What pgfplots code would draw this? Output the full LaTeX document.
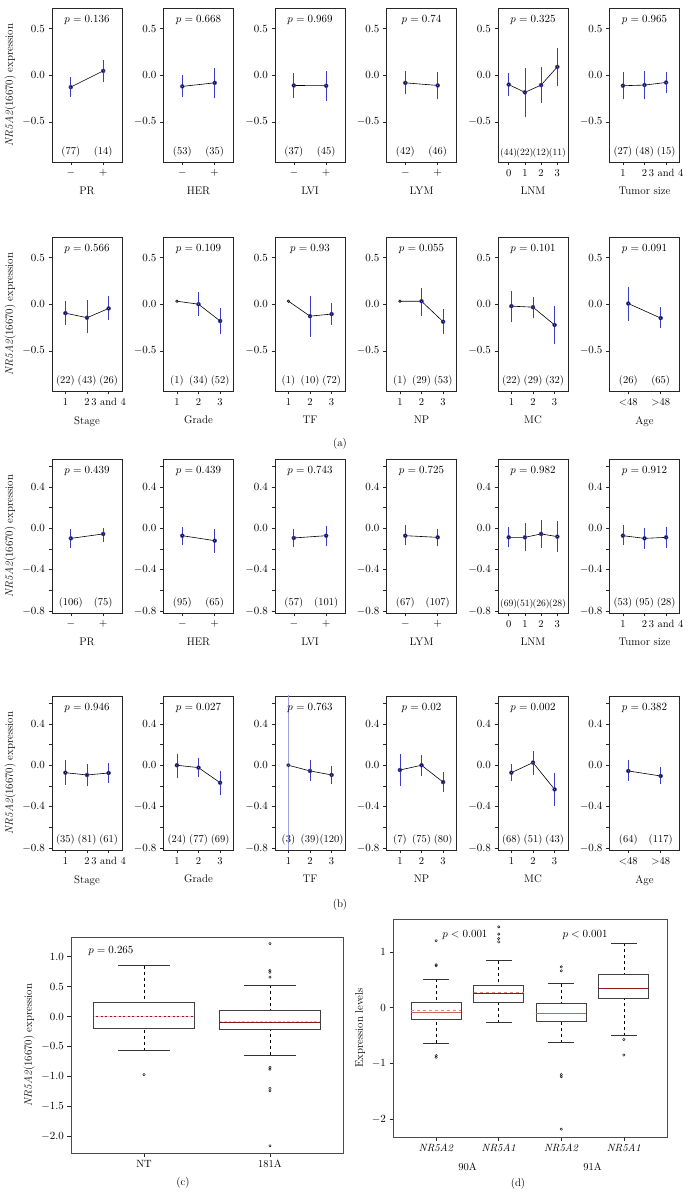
\documentclass[border=0pt]{standalone}
\usepackage{pgfplots}
\pgfplotsset{compat=1.18}
\usepgfplotslibrary{statistics}
\definecolor{barblue}{RGB}{60,60,200}
\definecolor{medred}{RGB}{140,25,25}
\definecolor{meanpink}{RGB}{232,135,135}
\definecolor{meanlight}{RGB}{245,185,185}
\definecolor{medrose}{RGB}{205,95,95}
\newcommand{\tfont}{\fontsize{10.5}{12.5}\selectfont}
\newcommand{\pfont}{\fontsize{11}{13}\selectfont}
\newcommand{\nfont}{\fontsize{10.5}{12}\selectfont}
\newcommand{\sfont}{\fontsize{9.6}{11}\selectfont}
\newcommand{\lfont}{\fontsize{11}{13}\selectfont}
\newcommand{\ebars}[1]{\addplot[barblue, only marks, mark=none, error bars/.cd, y dir=both, y explicit, error bar style={line width=0.7pt, barblue}, error mark options={barblue, mark size=1.4pt, line width=0.7pt}] coordinates {#1};}
\newcommand{\mline}[1]{\addplot[black, line width=0.6pt, mark=*, mark size=1.3pt, mark options={fill=black!45, draw=black, line width=0.5pt}] coordinates {#1};}
\newcommand{\plab}[1]{\node[font=\pfont, anchor=north, yshift=-3.5pt] at (rel axis cs:0.5,1) {$p = #1$};}
\newcommand{\nlab}[2]{\node[font=\nfont, anchor=south, yshift=1pt] at ({axis cs:#1,0} |- {rel axis cs:0,0}) {(#2)};}
\newcommand{\nlabs}[2]{\node[font=\sfont, anchor=south, yshift=1pt, inner xsep=0pt] at ({axis cs:#1,0} |- {rel axis cs:0,0}) {(#2)};}
\pgfplotsset{
  pan/.style={scale only axis, width=70pt, height=154pt, anchor=south west,
    axis line style={black!85, line width=0.6pt},
    tick align=outside, tick pos=left,
    major tick length=3.5pt, every tick/.style={black!85, line width=0.5pt},
    tick label style={font=\tfont},
    xlabel style={font=\lfont, yshift=-4pt},
    ylabel style={font=\lfont},
    clip=true},
  rowa/.style={ymin=-0.93, ymax=0.72, ytick={-0.5,0,0.5}, yticklabels={$-0.5$,$0.0$,$0.5$}},
  rowb/.style={ymin=-0.82, ymax=0.67, ytick={-0.8,-0.6,-0.4,-0.2,0,0.2,0.4,0.6}, yticklabels={$-0.8$,,$-0.4$,,$0.0$,,$0.4$,}},
  two/.style={xmin=0.42, xmax=2.58, xtick={1,2}, xticklabels={$-$,$+$}},
  three/.style={xmin=0.38, xmax=3.62, xtick={1,2,3}, xticklabels={1,2,3}},
  four/.style={xmin=0.34, xmax=4.66, xtick={1,2,3,4}, xticklabels={0,1,2,3}},
  yl/.style={ylabel={\textit{NR5A2}(16670) expression}},
  bx/.style={scale only axis, anchor=south west,
    axis line style={black!70, line width=0.7pt},
    tick align=outside, tick pos=left,
    major tick length=3.5pt, every tick/.style={black!85, line width=0.5pt},
    tick label style={font=\tfont},
    ylabel style={font=\lfont},
    clip mode=individual,
    boxplot/draw direction=y},
  boxplot/every box/.style={draw=black!75, line width=0.8pt},
  boxplot/draw/lower whisker/.code={%
    \draw[black, dashed, line width=0.6pt] (boxplot box cs:\pgfplotsboxplotvalue{lower whisker},0.5) -- (boxplot box cs:\pgfplotsboxplotvalue{lower quartile},0.5);
    \draw[black!80, line width=0.7pt] (boxplot whisker cs:\pgfplotsboxplotvalue{lower whisker},0) -- (boxplot whisker cs:\pgfplotsboxplotvalue{lower whisker},1);},
  boxplot/draw/upper whisker/.code={%
    \draw[black, dashed, line width=0.6pt] (boxplot box cs:\pgfplotsboxplotvalue{upper whisker},0.5) -- (boxplot box cs:\pgfplotsboxplotvalue{upper quartile},0.5);
    \draw[black!80, line width=0.7pt] (boxplot whisker cs:\pgfplotsboxplotvalue{upper whisker},0) -- (boxplot whisker cs:\pgfplotsboxplotvalue{upper whisker},1);},
  boxplot/draw/average/.code={%
    \draw[/pgfplots/boxplot/every average/.try] (boxplot box cs:\pgfplotsboxplotvalue{average},0) -- (boxplot box cs:\pgfplotsboxplotvalue{average},1);},
  boxplot/every average/.style={meanpink, dashed, line width=0.9pt},
}
\begin{document}
\begin{tikzpicture}
\useasboundingbox (0,0) rectangle (693pt,1195pt);
% ---------------- row 1 (a)
\begin{axis}[pan, rowa, two, yl, at={(52pt,1033pt)}, xlabel={PR}]
\ebars{(1,-0.128) += (0,0.093) -= (0,0.092) (2,0.046) += (0,0.103) -= (0,0.106)}
\mline{(1,-0.128) (2,0.046)}
\plab{0.136}\nlab{1}{77}\nlab{2}{14}
\end{axis}
\begin{axis}[pan, rowa, two, at={(163.5pt,1033pt)}, xlabel={HER}]
\ebars{(1,-0.12) += (0,0.102) -= (0,0.103) (2,-0.082) += (0,0.146) -= (0,0.152)}
\mline{(1,-0.12) (2,-0.082)}
\plab{0.668}\nlab{1}{53}\nlab{2}{35}
\end{axis}
\begin{axis}[pan, rowa, two, at={(275pt,1033pt)}, xlabel={LVI}]
\ebars{(1,-0.11) += (0,0.114) -= (0,0.117) (2,-0.113) += (0,0.138) -= (0,0.146)}
\mline{(1,-0.11) (2,-0.113)}
\plab{0.969}\nlab{1}{37}\nlab{2}{45}
\end{axis}
\begin{axis}[pan, rowa, two, at={(386.5pt,1033pt)}, xlabel={LYM}]
\ebars{(1,-0.082) += (0,0.114) -= (0,0.108) (2,-0.11) += (0,0.131) -= (0,0.135)}
\mline{(1,-0.082) (2,-0.11)}
\plab{0.74}\nlab{1}{42}\nlab{2}{46}
\end{axis}
\begin{axis}[pan, rowa, four, at={(498pt,1033pt)}, xlabel={LNM}]
\ebars{(1,-0.1) += (0,0.107) -= (0,0.106) (2,-0.184) += (0,0.248) -= (0,0.252) (3,-0.106) += (0,0.176) -= (0,0.174) (4,0.089) += (0,0.188) -= (0,0.192)}
\mline{(1,-0.1) (2,-0.184) (3,-0.106) (4,0.089)}
\plab{0.325}\nlabs{1}{44}\nlabs{2}{22}\nlabs{3}{12}\nlabs{4}{11}
\end{axis}
\begin{axis}[pan, rowa, three, xticklabels={1,2,3 and 4}, at={(609.5pt,1033pt)}, xlabel={Tumor size}]
\ebars{(1,-0.113) += (0,0.131) -= (0,0.132) (2,-0.106) += (0,0.134) -= (0,0.139) (3,-0.078) += (0,0.099) -= (0,0.099)}
\mline{(1,-0.113) (2,-0.106) (3,-0.078)}
\plab{0.965}\nlab{1}{27}\nlab{2}{48}\nlab{3}{15}
\end{axis}
% ---------------- row 2 (a)
\begin{axis}[pan, rowa, three, xticklabels={1,2,3 and 4}, yl, at={(52pt,804pt)}, xlabel={Stage}]
\ebars{(1,-0.096) += (0,0.116) -= (0,0.11) (2,-0.145) += (0,0.175) -= (0,0.153) (3,-0.046) += (0,0.116) -= (0,0.11)}
\mline{(1,-0.096) (2,-0.145) (3,-0.046)}
\plab{0.566}\nlab{1}{22}\nlab{2}{43}\nlab{3}{26}
\end{axis}
\begin{axis}[pan, rowa, three, at={(163.5pt,804pt)}, xlabel={Grade}]
\ebars{(2,0.0) += (0,0.12) -= (0,0.11) (3,-0.18) += (0,0.123) -= (0,0.125)}
\mline{(1,0.032) (2,0.0) (3,-0.18)}
\plab{0.109}\nlab{1}{1}\nlab{2}{34}\nlab{3}{52}
\end{axis}
\begin{axis}[pan, rowa, three, at={(275pt,804pt)}, xlabel={TF}]
\ebars{(2,-0.128) += (0,0.203) -= (0,0.205) (3,-0.106) += (0,0.102) -= (0,0.1)}
\mline{(1,0.032) (2,-0.128) (3,-0.106)}
\plab{0.93}\nlab{1}{1}\nlab{2}{10}\nlab{3}{72}
\end{axis}
\begin{axis}[pan, rowa, three, at={(386.5pt,804pt)}, xlabel={NP}]
\ebars{(2,0.032) += (0,0.131) -= (0,0.142) (3,-0.188) += (0,0.121) -= (0,0.117)}
\mline{(1,0.032) (2,0.032) (3,-0.188)}
\plab{0.055}\nlab{1}{1}\nlab{2}{29}\nlab{3}{53}
\end{axis}
\begin{axis}[pan, rowa, three, at={(498pt,804pt)}, xlabel={MC}]
\ebars{(1,-0.021) += (0,0.149) -= (0,0.159) (2,-0.032) += (0,0.092) -= (0,0.103) (3,-0.223) += (0,0.184) -= (0,0.187)}
\mline{(1,-0.021) (2,-0.032) (3,-0.223)}
\plab{0.101}\nlab{1}{22}\nlab{2}{29}\nlab{3}{32}
\end{axis}
\begin{axis}[pan, rowa, two, xticklabels={<48,>48}, at={(609.5pt,804pt)}, xlabel={Age}]
\ebars{(1,0.007) += (0,0.167) -= (0,0.17) (2,-0.149) += (0,0.099) -= (0,0.096)}
\mline{(1,0.007) (2,-0.149)}
\plab{0.091}\nlab{1}{26}\nlab{2}{65}
\end{axis}
\node[font=\lfont] at (340pt,751pt) {(a)};
% ---------------- row 3 (b)
\begin{axis}[pan, rowb, two, yl, at={(52pt,582pt)}, xlabel={PR}]
\ebars{(1,-0.098) += (0,0.075) -= (0,0.081) (2,-0.055) += (0,0.045) -= (0,0.06)}
\mline{(1,-0.098) (2,-0.055)}
\plab{0.439}\nlab{1}{106}\nlab{2}{75}
\end{axis}
\begin{axis}[pan, rowb, two, at={(163.5pt,582pt)}, xlabel={HER}]
\ebars{(1,-0.072) += (0,0.072) -= (0,0.081) (2,-0.12) += (0,0.097) -= (0,0.104)}
\mline{(1,-0.072) (2,-0.12)}
\plab{0.439}\nlab{1}{95}\nlab{2}{65}
\end{axis}
\begin{axis}[pan, rowb, two, at={(275pt,582pt)}, xlabel={LVI}]
\ebars{(1,-0.094) += (0,0.078) -= (0,0.075) (2,-0.072) += (0,0.082) -= (0,0.088)}
\mline{(1,-0.094) (2,-0.072)}
\plab{0.743}\nlab{1}{57}\nlab{2}{101}
\end{axis}
\begin{axis}[pan, rowb, two, at={(386.5pt,582pt)}, xlabel={LYM}]
\ebars{(1,-0.072) += (0,0.092) -= (0,0.081) (2,-0.088) += (0,0.072) -= (0,0.075)}
\mline{(1,-0.072) (2,-0.088)}
\plab{0.725}\nlab{1}{67}\nlab{2}{107}
\end{axis}
\begin{axis}[pan, rowb, four, at={(498pt,582pt)}, xlabel={LNM}]
\ebars{(1,-0.088) += (0,0.088) -= (0,0.081) (2,-0.088) += (0,0.124) -= (0,0.123) (3,-0.055) += (0,0.123) -= (0,0.121) (4,-0.081) += (0,0.14) -= (0,0.137)}
\mline{(1,-0.088) (2,-0.088) (3,-0.055) (4,-0.081)}
\plab{0.982}\nlabs{1}{69}\nlabs{2}{51}\nlabs{3}{26}\nlabs{4}{28}
\end{axis}
\begin{axis}[pan, rowb, three, xticklabels={1,2,3 and 4}, at={(609.5pt,582pt)}, xlabel={Tumor size}]
\ebars{(1,-0.072) += (0,0.088) -= (0,0.081) (2,-0.098) += (0,0.091) -= (0,0.087) (3,-0.088) += (0,0.091) -= (0,0.088)}
\mline{(1,-0.072) (2,-0.098) (3,-0.088)}
\plab{0.912}\nlab{1}{53}\nlab{2}{95}\nlab{3}{28}
\end{axis}
% ---------------- row 4 (b)
\begin{axis}[pan, rowb, three, xticklabels={1,2,3 and 4}, yl, at={(52pt,345pt)}, xlabel={Stage}]
\ebars{(1,-0.072) += (0,0.114) -= (0,0.104) (2,-0.094) += (0,0.097) -= (0,0.096) (3,-0.075) += (0,0.085) -= (0,0.088)}
\mline{(1,-0.072) (2,-0.094) (3,-0.075)}
\plab{0.946}\nlab{1}{35}\nlab{2}{81}\nlab{3}{61}
\end{axis}
\begin{axis}[pan, rowb, three, at={(163.5pt,345pt)}, xlabel={Grade}]
\ebars{(1,0.0) += (0,0.1) -= (0,0.11) (2,-0.023) += (0,0.082) -= (0,0.081) (3,-0.169) += (0,0.104) -= (0,0.107)}
\mline{(1,0.0) (2,-0.023) (3,-0.169)}
\plab{0.027}\nlab{1}{24}\nlab{2}{77}\nlab{3}{69}
\end{axis}
\begin{axis}[pan, rowb, three, at={(275pt,345pt)}, xlabel={TF}]
\addplot[barblue!50, only marks, mark=none, error bars/.cd, y dir=both, y explicit, error bar style={line width=1.5pt, barblue!50}, error mark=none] coordinates {(1,0) +- (0,3)};
\ebars{(2,-0.055) += (0,0.088) -= (0,0.082) (3,-0.094) += (0,0.071) -= (0,0.075)}
\mline{(1,0.0) (2,-0.055) (3,-0.094)}
\plab{0.763}\nlab{1}{3}\nlab{2}{39}\nlab{3}{120}
\end{axis}
\begin{axis}[pan, rowb, three, at={(386.5pt,345pt)}, xlabel={NP}]
\ebars{(1,-0.046) += (0,0.146) -= (0,0.144) (2,0.0) += (0,0.085) -= (0,0.088) (3,-0.163) += (0,0.085) -= (0,0.087)}
\mline{(1,-0.046) (2,0.0) (3,-0.163)}
\plab{0.02}\nlab{1}{7}\nlab{2}{75}\nlab{3}{80}
\end{axis}
\begin{axis}[pan, rowb, three, at={(498pt,345pt)}, xlabel={MC}]
\ebars{(1,-0.072) += (0,0.072) -= (0,0.068) (2,0.026) += (0,0.098) -= (0,0.104) (3,-0.234) += (0,0.146) -= (0,0.146)}
\mline{(1,-0.072) (2,0.026) (3,-0.234)}
\plab{0.002}\nlab{1}{68}\nlab{2}{51}\nlab{3}{43}
\end{axis}
\begin{axis}[pan, rowb, two, xticklabels={<48,>48}, at={(609.5pt,345pt)}, xlabel={Age}]
\ebars{(1,-0.055) += (0,0.091) -= (0,0.082) (2,-0.104) += (0,0.075) -= (0,0.065)}
\mline{(1,-0.055) (2,-0.104)}
\plab{0.382}\nlab{1}{64}\nlab{2}{117}
\end{axis}
\node[font=\lfont] at (340pt,290pt) {(b)};
% ---------------- (c)
\begin{axis}[bx, at={(71pt,42pt)}, width=272pt, height=216pt, xmin=0.42, xmax=2.58, ymin=-2.28, ymax=1.33,
  xtick={1,2}, xticklabels={NT,181A}, ytick={-2,-1.5,-1,-0.5,0,0.5,1},
  yticklabels={$-2.0$,$-1.5$,$-1.0$,$-0.5$,$0.0$,$0.5$,$1.0$}, yl]
\addplot[black, mark=o, mark size=1.2pt, boxplot/every median/.style={medred, line width=1.4pt},
  boxplot/every average/.style={meanlight, dash pattern=on 2.5pt off 2pt, line width=0.5pt},
  boxplot prepared={draw position=1, lower whisker=-0.57, lower quartile=-0.2, median=0, upper quartile=0.233, upper whisker=0.85, average=0.012, box extend=0.8, whisker extend=0.41}]
  table[row sep=\\, y index=0] {data\\ -0.97\\};
\addplot[black, mark=o, mark size=1.2pt, boxplot/every median/.style={medred, line width=1.4pt},
  boxplot/every average/.style={meanlight, dash pattern=on 2.5pt off 2pt, line width=0.5pt},
  boxplot prepared={draw position=2, lower whisker=-0.64, lower quartile=-0.22, median=-0.095, upper quartile=0.1, upper whisker=0.52, average=-0.075, box extend=0.8, whisker extend=0.41}]
  table[row sep=\\, y index=0] {data\\ 1.22\\ 0.77\\ 0.74\\ 0.66\\ -0.85\\ -0.88\\ -1.2\\ -1.24\\ -2.16\\};
\node[font=\pfont, anchor=west] at (axis cs:0.53,1.1) {$p = 0.265$};
\end{axis}
\node[font=\lfont] at (183pt,12pt) {(c)};
% ---------------- (d)
\begin{axis}[bx, at={(393pt,58pt)}, width=274pt, height=218pt, xmin=0.31, xmax=4.69, ymin=-2.32, ymax=1.59,
  xtick={1,2,3,4}, xticklabels={\textit{NR5A2},\textit{NR5A1},\textit{NR5A2},\textit{NR5A1}},
  ytick={-2,-1,0,1}, yticklabels={$-2$,$-1$,$0$,$1$}, ylabel={Expression levels}]
\addplot[black, mark=o, mark size=1.2pt, boxplot/every median/.style={medrose, line width=1.1pt},
  boxplot prepared={draw position=1, lower whisker=-0.64, lower quartile=-0.21, median=-0.09, upper quartile=0.09, upper whisker=0.51, average=-0.05, box extend=0.8, whisker extend=0.41}]
  table[row sep=\\, y index=0] {data\\ 1.2\\ 0.77\\ 0.75\\ -0.86\\ -0.89\\};
\addplot[black, mark=o, mark size=1.2pt, boxplot/every median/.style={medred, line width=1.1pt},
  boxplot prepared={draw position=2, lower whisker=-0.27, lower quartile=0.09, median=0.25, upper quartile=0.4, upper whisker=0.84, average=0.28, box extend=0.8, whisker extend=0.41}]
  table[row sep=\\, y index=0] {data\\ 1.45\\ 1.32\\ 1.24\\ 1.18\\};
\addplot[black, mark=o, mark size=1.2pt, boxplot/every median/.style={medrose, line width=1.1pt},
  boxplot/every average/.style={medrose, line width=1.1pt},
  boxplot prepared={draw position=3, lower whisker=-0.63, lower quartile=-0.25, median=-0.1, upper quartile=0.08, upper whisker=0.43, average=-0.1, box extend=0.8, whisker extend=0.41}]
  table[row sep=\\, y index=0] {data\\ 0.73\\ 0.66\\ -1.2\\ -1.24\\ -2.18\\};
\addplot[black, mark=o, mark size=1.2pt, boxplot/every median/.style={medred, line width=1.2pt},
  boxplot/every average/.style={medred, line width=1.2pt},
  boxplot prepared={draw position=4, lower whisker=-0.5, lower quartile=0.16, median=0.34, upper quartile=0.6, upper whisker=1.16, average=0.345, box extend=0.8, whisker extend=0.41}]
  table[row sep=\\, y index=0] {data\\ -0.57\\ -0.85\\};
\node[font=\pfont] at (axis cs:1.46,1.3) {$p < 0.001$};
\node[font=\pfont] at (axis cs:3.38,1.3) {$p < 0.001$};
\node[font=\tfont] at ({axis cs:1.5,0} |- {rel axis cs:0,0}) [yshift=-30pt] {90A};
\node[font=\tfont] at ({axis cs:3.5,0} |- {rel axis cs:0,0}) [yshift=-30pt] {91A};
\end{axis}
\node[font=\lfont] at (518pt,11pt) {(d)};
\end{tikzpicture}
\end{document}
